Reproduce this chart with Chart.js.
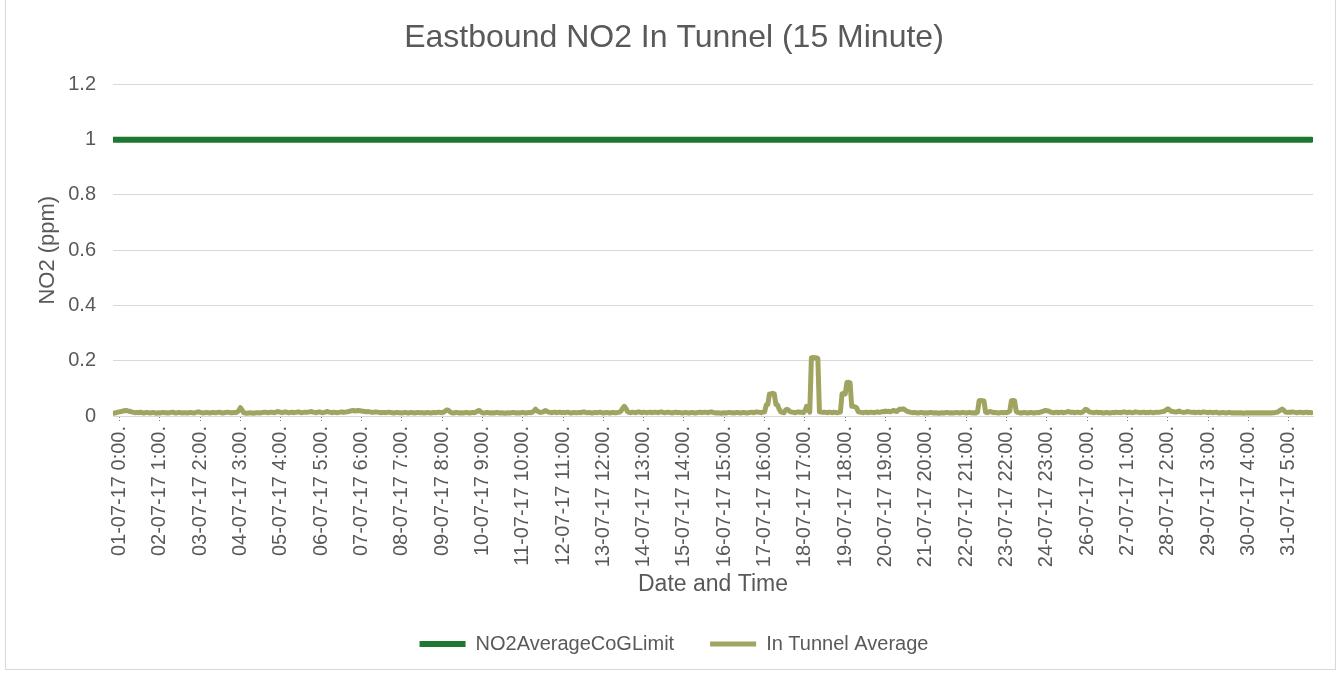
<!DOCTYPE html>
<html>
<head>
<meta charset="utf-8">
<script src="https://cdn.jsdelivr.net/npm/chart.js@4.4.1/dist/chart.umd.min.js"></script>
<style>
  html, body { margin: 0; padding: 0; background: #ffffff; }
  #frame { position: absolute; left: 5px; top: -1px; width: 1331px; height: 671px; border: 1px solid #d9d9d9; box-sizing: border-box; }
  #wrap { position: absolute; left: 0; top: 0; width: 1339px; height: 674px; }
</style>
</head>
<body>
<div id="frame"></div>
<div id="wrap"><canvas id="c" width="1339" height="674"></canvas></div>
<script>
// ---- DATA ----
const chartTitle = "Eastbound NO2 In Tunnel (15 Minute)";
const seriesNames = ["NO2AverageCoGLimit", "In Tunnel Average"];

// X tick labels (every 25 hours)
const xTickLabels = [
  "01-07-17 0:00.", "02-07-17 1:00.", "03-07-17 2:00.", "04-07-17 3:00.", "05-07-17 4:00.",
  "06-07-17 5:00.", "07-07-17 6:00.", "08-07-17 7:00.", "09-07-17 8:00.", "10-07-17 9:00.",
  "11-07-17 10:00.", "12-07-17 11:00.", "13-07-17 12:00.", "14-07-17 13:00.", "15-07-17 14:00.",
  "16-07-17 15:00.", "17-07-17 16:00.", "18-07-17 17:00.", "19-07-17 18:00.", "20-07-17 19:00.",
  "21-07-17 20:00.", "22-07-17 21:00.", "23-07-17 22:00.", "24-07-17 23:00.", "26-07-17 0:00.",
  "27-07-17 1:00.", "28-07-17 2:00.", "29-07-17 3:00.", "30-07-17 4:00.", "31-07-17 5:00."
];
// hours since 01-07-17 0:00 at which each tick label sits
const xTickHours = [4,29,54,79,104,129,154,179,204,229,254,279,304,329,354,379,404,429,454,479,504,529,554,579,604,629,654,679,704,729];
const yTickLabels = ["0", "0.2", "0.4", "0.6", "0.8", "1", "1.2"];

// Limit line (ppm) at start and end hours
const limitHours = [0, 743];
const limitValues = [1, 1];

// In Tunnel Average, hourly readings in ppb (one row per day, 01-07 .. 31-07)
const tunnelPpbByDay = [
  [10,11,12,14,15,16,18,19,20,19,17,16,14,13,12,13,12,14,12,11,12,13,12,11],
  [12,13,11,10,12,11,12,13,12,12,11,12,13,14,12,11,12,13,12,11,12,12,11,12],
  [13,12,11,12,14,15,13,12,11,12,13,12,11,12,13,12,12,13,14,12,11,12,13,14],
  [13,12,12,13,12,14,20,30,22,12,11,10,11,12,11,10,11,12,12,11,12,13,14,13],
  [12,13,14,13,12,14,16,15,13,12,14,15,13,12,13,14,12,13,14,15,13,12,13,14],
  [13,14,15,16,14,13,12,14,15,13,12,13,15,16,14,13,12,14,13,12,13,14,15,13],
  [14,15,16,18,19,20,18,19,20,19,18,17,16,15,16,15,14,13,14,15,14,13,12,13],
  [13,12,13,14,13,12,11,12,13,12,12,11,12,13,12,11,12,13,12,11,12,13,12,12],
  [12,11,12,13,12,11,12,13,12,13,14,13,12,14,18,22,20,15,12,11,12,13,12,11],
  [12,11,12,13,12,11,12,13,12,14,18,20,15,12,11,12,13,12,11,12,11,12,13,12],
  [11,12,11,10,11,12,11,12,13,12,11,12,11,12,13,12,11,12,13,12,14,18,25,18],
  [15,13,14,16,20,17,14,13,12,13,14,12,13,14,12,13,12,13,14,12,11,12,13,12],
  [12,13,12,14,15,13,12,13,12,11,12,13,12,13,14,12,11,12,13,12,11,12,13,12],
  [12,13,14,18,28,35,28,16,13,12,14,13,12,14,15,13,12,14,13,12,13,14,12,13],
  [14,13,12,14,15,13,12,13,14,13,12,11,13,14,12,13,12,11,12,13,12,11,12,13],
  [12,11,12,13,14,12,13,14,13,12,14,15,13,12,11,12,11,10,11,12,11,12,13,12],
  [12,11,12,13,12,11,12,13,12,11,12,13,14,12,13,15,14,13,12,14,15,40,42,80],
  [80,82,80,42,40,25,15,13,12,22,24,20,15,14,13,12,14,15,13,14,12,18,35,30],
  [14,210,212,210,211,208,15,14,13,14,13,12,14,13,12,14,13,12,13,14,80,82,80,121],
  [122,120,35,35,33,30,16,14,13,12,13,14,12,13,14,13,12,14,15,13,14,16,15,18],
  [16,17,15,18,20,18,16,22,25,24,26,22,18,16,14,13,12,13,12,11,12,13,12,11],
  [12,11,12,13,12,11,12,11,10,11,12,11,12,13,12,11,12,11,12,13,12,11,12,13],
  [12,11,12,13,12,11,12,11,14,55,56,55,54,14,12,15,16,14,12,13,12,11,12,13],
  [12,13,12,14,18,55,56,55,16,13,12,11,12,13,12,11,12,13,12,11,12,13,12,14],
  [16,18,20,19,18,15,13,12,13,14,12,13,14,12,13,14,16,15,13,14,12,13,14,13],
  [12,14,18,24,22,16,14,13,12,13,14,12,13,12,11,12,13,12,11,12,13,12,14,13],
  [13,12,14,15,13,12,14,13,12,13,15,14,13,12,13,14,12,13,12,14,13,12,13,14],
  [13,14,15,16,18,22,26,22,17,16,15,14,16,18,15,14,13,14,16,15,14,13,14,12],
  [13,14,12,13,15,14,13,12,14,13,12,13,14,12,11,12,13,12,11,12,13,12,11,12],
  [11,12,11,12,11,10,11,12,11,12,11,12,11,12,11,12,11,12,11,12,11,12,11,12],
  [12,13,14,18,22,25,20,14,13,14,13,15,14,13,12,13,14,13,12,13,14,12,13,12]
];

// ---- BUILD ----
const tunnelPoints = [];
tunnelPpbByDay.forEach((row, d) => row.forEach((ppb, h) => tunnelPoints.push({ x: d * 24 + h, y: ppb / 1000 })));
const limitPoints = limitHours.map((h, i) => ({ x: h, y: limitValues[i] }));

const FONT = "'Liberation Sans', Arial, sans-serif";
const TXT = "#595959";

new Chart(document.getElementById('c'), {
  type: 'line',
  data: {
    datasets: [
      { label: seriesNames[0], data: limitPoints, borderColor: '#1f7732', backgroundColor: '#1f7732',
        borderWidth: 6, pointRadius: 0, borderCapStyle: 'round', tension: 0 },
      { label: seriesNames[1], data: tunnelPoints, borderColor: '#a0a460', backgroundColor: '#a0a460',
        borderWidth: 5, pointRadius: 0, borderCapStyle: 'round', borderJoinStyle: 'round', tension: 0 }
    ]
  },
  options: {
    responsive: false,
    animation: false,
    layout: { padding: { left: 35, right: 26, top: 3, bottom: 10 } },
    plugins: {
      title: { display: true, text: chartTitle, color: TXT, font: { family: FONT, size: 32, weight: 'normal' },
               padding: { top: 16, bottom: 27 } },
      legend: { display: true, position: 'bottom',
        labels: { color: TXT, font: { family: FONT, size: 20 }, usePointStyle: true, pointStyle: 'line',
                  pointStyleWidth: 46, boxHeight: 6, padding: 36 } },
      tooltip: { enabled: false }
    },
    scales: {
      x: {
        type: 'linear', min: 0, max: 744,
        afterBuildTicks: (s) => { s.ticks = xTickHours.map(v => ({ value: v })); },
        afterFit: (s) => { s.height = 182; },
        ticks: { autoSkip: false, maxRotation: 90, minRotation: 90, padding: 4, color: TXT,
                 font: { family: FONT, size: 20 },
                 callback: (v, i) => xTickLabels[i] },
        grid: { drawOnChartArea: false, drawTicks: true, tickLength: 6, tickColor: '#7f7f7f', tickBorderDash: [1, 2] },
        border: { display: true, color: '#d9d9d9' },
        title: { display: true, text: 'Date and Time', color: TXT, font: { family: FONT, size: 23 }, padding: { top: 0, bottom: 0 } }
      },
      y: {
        min: 0, max: 1.2,
        afterFit: (s) => { s.width = 78; },
        ticks: { stepSize: 0.2, color: TXT, font: { family: FONT, size: 20 }, padding: 17,
                 callback: (v, i) => yTickLabels[i] },
        grid: { color: '#d9d9d9', lineWidth: 1, drawTicks: false },
        border: { display: false },
        title: { display: true, text: 'NO2 (ppm)', color: TXT, font: { family: FONT, size: 22 }, padding: { top: 0, bottom: 0 } }
      }
    }
  }
});
</script>
</body>
</html>
